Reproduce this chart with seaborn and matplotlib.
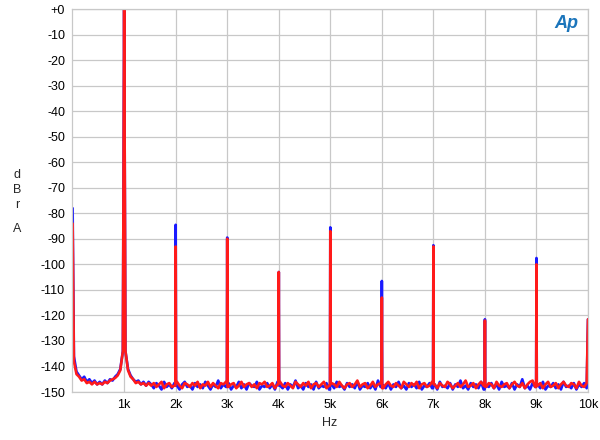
import numpy as np
import pandas as pd
import matplotlib
matplotlib.use("Agg")
import matplotlib.pyplot as plt
from matplotlib.ticker import MultipleLocator, FixedLocator
import seaborn as sns

# harmonic spikes (Hz, dBr)
harm_freq = [0, 1000, 2000, 3000, 4000, 5000, 6000, 7000, 8000, 9000, 10000]
blue_peak = [-78, 0, -84.5, -89.5, -103, -85.5, -106.5, -92.5, -121.5, -97.5, -121.5]
red_peak = [-84, 0, -93, -90, -103, -87, -113, -93, -122, -100, -121.5]

# noise floor, sampled every 50 Hz starting at 25 Hz
blue_floor = [
    -136, -142, -143.5, -145, -144, -146, -145, -146.5, -145.5, -147,
    -146, -147, -145.5, -146.5, -145, -145.5, -144, -143, -141, -134,
    -134, -141, -143.5, -145, -146, -145.5, -147, -146, -147.5, -146,
    -147.0, -148.5, -146.5, -147.5, -149.0, -146.0, -148.0, -147.0, -148.5, -146.5,
    -147.5, -149.0, -147.0, -146.0, -148.0, -147.5, -149.0, -146.5, -148.0, -147.0,
    -148.5, -146.0, -147.5, -149.0, -147.0, -148.0, -145.5, -148.5, -147.0, -148.0,
    -146.5, -149.0, -147.5, -148.0, -146.0, -148.5, -147.0, -149.0, -146.5, -147.5,
    -148.0, -146.0, -149.0, -147.5, -148.0, -146.5, -148.5, -147.0, -149.0, -146.0,
    -147.5, -148.5, -146.5, -149.0, -147.0, -148.0, -145.5, -148.5, -147.5, -149.0,
    -146.5, -148.0, -147.0, -149.0, -146.0, -148.5, -147.5, -148.0, -146.5, -149.0,
    -147.0, -148.5, -146.0, -148.0, -147.5, -149.0, -146.5, -148.0, -147.0, -148.5,
    -146.0, -149.0, -147.5, -148.0, -146.5, -148.5, -147.0, -149.0, -145.5, -148.0,
    -147.5, -148.5, -146.5, -149.0, -147.0, -148.0, -146.0, -148.5, -147.5, -149.0,
    -146.5, -148.0, -147.0, -148.5, -146.0, -149.0, -147.5, -148.0, -146.5, -148.5,
    -147.0, -149.0, -146.0, -148.0, -147.5, -148.5, -146.5, -149.0, -147.0, -148.0,
    -145.5, -148.5, -147.5, -149.0, -146.5, -148.0, -147.0, -148.5, -146.0, -149.0,
    -147.5, -148.0, -146.5, -148.5, -147.0, -149.0, -146.0, -148.0, -147.5, -148.5,
    -146.5, -149.0, -147.0, -148.0, -145.0, -148.5, -147.5, -149.0, -146.5, -148.0,
    -147.0, -148.5, -146.0, -149.0, -147.5, -148.0, -146.5, -148.5, -147.0, -149.0,
    -146.0, -148.0, -147.5, -148.5, -146.5, -149.0, -147.0, -148.0, -146.5, -148.5,
]
red_floor = [
    -138, -143, -144, -145.5, -145, -146.5, -146, -147, -146, -147,
    -146.5, -147, -146, -146.5, -145.5, -145, -144.5, -143.5, -141.5, -134,
    -134, -141.5, -144, -145, -146.5, -146, -147, -146.5, -147.5, -146.5,
    -147.5, -146.5, -148.0, -147.0, -146.0, -148.5, -147.0, -146.5, -148.0, -147.5,
    -146.0, -147.5, -148.5, -146.5, -147.0, -148.0, -146.5, -147.5, -146.0, -148.5,
    -147.0, -147.5, -146.0, -148.0, -146.5, -147.5, -148.5, -146.5, -147.0, -146.0,
    -148.0, -147.0, -146.5, -148.5, -147.5, -146.0, -148.0, -147.0, -146.5, -148.0,
    -147.0, -148.5, -146.5, -147.0, -146.0, -148.0, -147.5, -146.5, -148.5, -147.0,
    -146.0, -147.5, -148.0, -146.5, -147.5, -148.5, -146.0, -147.0, -148.0, -146.5,
    -147.5, -146.0, -148.5, -147.0, -146.5, -148.0, -147.0, -146.0, -148.5, -147.5,
    -146.5, -147.0, -148.0, -146.0, -147.5, -148.5, -147.0, -146.5, -148.0, -147.0,
    -145.5, -148.0, -147.0, -146.5, -148.5, -147.5, -146.0, -148.0, -147.0, -146.5,
    -148.5, -147.0, -146.0, -147.5, -148.0, -146.5, -147.5, -148.5, -146.0, -147.0,
    -148.0, -146.5, -147.5, -146.0, -148.5, -147.0, -146.5, -148.0, -147.5, -146.0,
    -147.0, -148.5, -146.5, -147.5, -148.0, -146.0, -147.0, -148.5, -147.5, -146.5,
    -148.0, -147.0, -145.5, -148.0, -147.5, -146.5, -148.5, -147.0, -146.0, -147.5,
    -148.0, -146.5, -147.0, -148.5, -146.0, -147.5, -148.0, -147.0, -146.5, -148.5,
    -147.0, -146.0, -147.5, -148.0, -146.5, -148.5, -147.0, -146.0, -145.5, -148.0,
    -147.5, -146.5, -148.5, -147.0, -146.0, -148.0, -147.5, -146.5, -148.5, -147.0,
    -146.0, -147.5, -148.0, -146.5, -147.0, -148.5, -146.0, -147.5, -148.0, -146.5,
]
floor_freq = 25 + 50 * np.arange(len(blue_floor))

y_ticks = list(range(0, -151, -10))
y_labels = ["+0"] + [str(v) for v in y_ticks[1:]]
x_ticks = list(range(1000, 10001, 1000))
x_labels = ["1k", "2k", "3k", "4k", "5k", "6k", "7k", "8k", "9k", "10k"]

rows = []
for name, floor, peaks in [("blue", blue_floor, blue_peak), ("red", red_floor, red_peak)]:
    for f, v in zip(floor_freq, floor):
        rows.append((f, v, name))
    for f, v in zip(harm_freq, peaks):
        rows.append((f, v, name))
        # narrow base: spike drops straight to the neighbouring floor sample
        if 1000 < f < 10000:
            i = int((f - 25) // 50)
            rows.append((f - 6, floor[i], name))
            rows.append((f + 6, floor[i + 1], name))
df = pd.DataFrame(rows, columns=["freq", "level", "trace"]).sort_values("freq")

sns.set_style("white")
plt.rcParams["font.family"] = ["Liberation Sans", "DejaVu Sans"]

fig = plt.figure(figsize=(6, 4.4), dpi=100)
ax = fig.add_axes([0.12, 0.109, 0.86, 0.8705])

sns.lineplot(data=df, x="freq", y="level", hue="trace", hue_order=["blue", "red"],
             palette={"blue": "#1a1aff", "red": "#ff1a1a"}, estimator=None,
             sort=True, legend=False, linewidth=1.9, ax=ax)

ax.set_xlim(-12, 10000)
ax.set_ylim(-150, 0)
ax.yaxis.set_major_locator(FixedLocator(y_ticks))
ax.set_yticklabels(y_labels)
ax.xaxis.set_major_locator(FixedLocator(x_ticks))
ax.set_xticklabels(x_labels)
ax.yaxis.set_minor_locator(MultipleLocator(1))
ax.xaxis.set_minor_locator(MultipleLocator(100))
ax.tick_params(axis="both", which="major", length=0, labelsize=9, pad=5, labelcolor="black")
ax.tick_params(axis="both", which="minor", direction="in", length=4, width=0.6, color="#c0c0c0")
ax.grid(True, which="major", color="#c8c8c8", linewidth=0.9)
for s in ax.spines.values():
    s.set_color("#c8c8c8")
    s.set_linewidth(0.9)
ax.set_xlabel("")
ax.set_ylabel("")

for ch, yy in [("d", 175), ("B", 190), ("r", 205), ("A", 229)]:
    fig.text(17 / 600, 1 - yy / 440, ch, fontsize=9, ha="center", va="center")
fig.text(330 / 600, 1 - 423 / 440, "Hz", fontsize=9, ha="center", va="center")
fig.text(566 / 600, 1 - 23 / 440, "Ap", fontsize=13, color="#1b75bb", style="italic",
         fontweight="bold", ha="center", va="center")

fig.savefig("out.png", dpi=100)
